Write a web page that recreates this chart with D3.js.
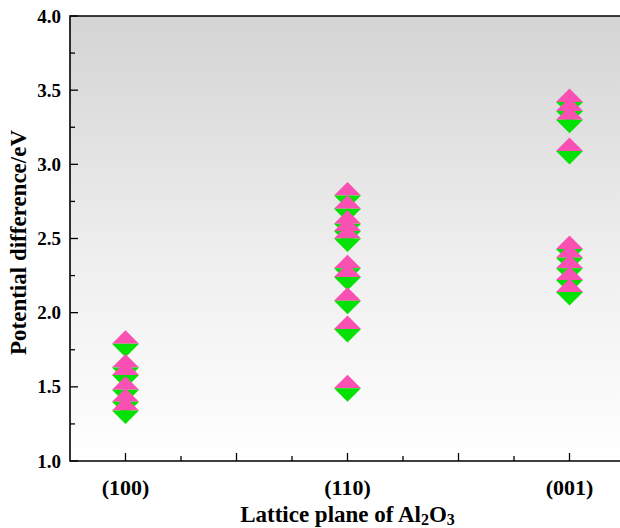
<!DOCTYPE html>
<html><head><meta charset="utf-8">
<script src="https://cdn.jsdelivr.net/npm/d3@7"></script>
<style>body{margin:0;background:#fff}svg{display:block}</style>
</head><body>
<svg id="c" width="620" height="528"></svg>
<script>
const categories = ["(100)", "(110)", "(001)"];
const values100 = [1.79, 1.63, 1.58, 1.48, 1.40, 1.34];
const values110 = [2.79, 2.70, 2.60, 2.55, 2.50, 2.30, 2.24, 2.08, 1.89, 1.49];
const values001 = [3.42, 3.36, 3.30, 3.09, 2.43, 2.37, 2.30, 2.22, 2.14];
const yTicks = [1.0, 1.5, 2.0, 2.5, 3.0, 3.5, 4.0];

const series = [values100, values110, values001];
const points = [];
series.forEach((arr, i) => arr.forEach(v => points.push({x: i + 1, v})));

const svg = d3.select("#c");
const m = {l: 70, t: 16, b: 461, r: 625};
const x = d3.scaleLinear().domain([0.75, 3.25]).range([m.l, m.r]);
const y = d3.scaleLinear().domain([1, 4]).range([m.b, m.t]);

const defs = svg.append("defs");
const g = defs.append("linearGradient").attr("id", "bg").attr("x1", 0).attr("y1", 0).attr("x2", 0).attr("y2", 1);
g.append("stop").attr("offset", "0%").attr("stop-color", "#d4d4d4");
g.append("stop").attr("offset", "55%").attr("stop-color", "#efefef");
g.append("stop").attr("offset", "100%").attr("stop-color", "#ffffff");

svg.append("rect").attr("x", m.l).attr("y", m.t).attr("width", m.r - m.l).attr("height", m.b - m.t).attr("fill", "url(#bg)");

const font = "'Liberation Serif','Times New Roman',serif";
const yMinor = d3.range(1.25, 4, 0.5);
const xMajor = [1, 1.5, 2, 2.5, 3];
const xMinor = [1.25, 1.75, 2.25, 2.75];

const ax = svg.append("g").attr("stroke", "#000").attr("stroke-width", 1.3);
yTicks.forEach(t => ax.append("line").attr("x1", m.l).attr("x2", m.l + 8).attr("y1", y(t)).attr("y2", y(t)));
yMinor.forEach(t => ax.append("line").attr("x1", m.l).attr("x2", m.l + 5).attr("y1", y(t)).attr("y2", y(t)));
xMajor.forEach(t => ax.append("line").attr("y1", m.b).attr("y2", m.b - 8).attr("x1", x(t)).attr("x2", x(t)));
xMinor.forEach(t => ax.append("line").attr("y1", m.b).attr("y2", m.b - 5).attr("x1", x(t)).attr("x2", x(t)));

svg.append("path").attr("d", `M${m.r},${m.t}H${m.l}V${m.b}H${m.r}`).attr("fill", "none").attr("stroke", "#000").attr("stroke-width", 1.6);

svg.append("g").selectAll("text").data(yTicks).join("text")
  .attr("x", m.l - 9).attr("y", d => y(d)).attr("dy", "0.35em")
  .attr("text-anchor", "end").attr("font-family", font).attr("font-weight", "bold").attr("font-size", 19)
  .text(d => d.toFixed(1));
svg.append("g").selectAll("text").data(categories).join("text")
  .attr("x", (d, i) => x(i + 1)).attr("y", 495)
  .attr("text-anchor", "middle").attr("font-family", font).attr("font-weight", "bold").attr("font-size", 22)
  .text(d => d);

const xt = svg.append("text").attr("x", x(2)).attr("y", 522).attr("text-anchor", "middle")
  .attr("font-family", font).attr("font-weight", "bold").attr("font-size", 23);
xt.append("tspan").text("Lattice plane of Al");
xt.append("tspan").attr("font-size", 16).attr("dy", 3).text("2");
xt.append("tspan").attr("dy", -3).text("O");
xt.append("tspan").attr("font-size", 16).attr("dy", 3).text("3");

svg.append("text").attr("transform", `translate(26,${(m.t + m.b) / 2 + 4}) rotate(-90)`)
  .attr("text-anchor", "middle").attr("font-family", font).attr("font-weight", "bold").attr("font-size", 23)
  .text("Potential difference/eV");

const h = 13.5, w = 13.5;
const mk = svg.append("g");
points.forEach(p => {
  const cx = x(p.x), cy = y(p.v);
  mk.append("path").attr("d", `M${cx - w},${cy}L${cx},${cy - h}L${cx + w},${cy}Z`).attr("fill", "#fa50b3");
  mk.append("path").attr("d", `M${cx - w},${cy}L${cx},${cy + h}L${cx + w},${cy}Z`).attr("fill", "#05e005");
});
</script>
</body></html>
